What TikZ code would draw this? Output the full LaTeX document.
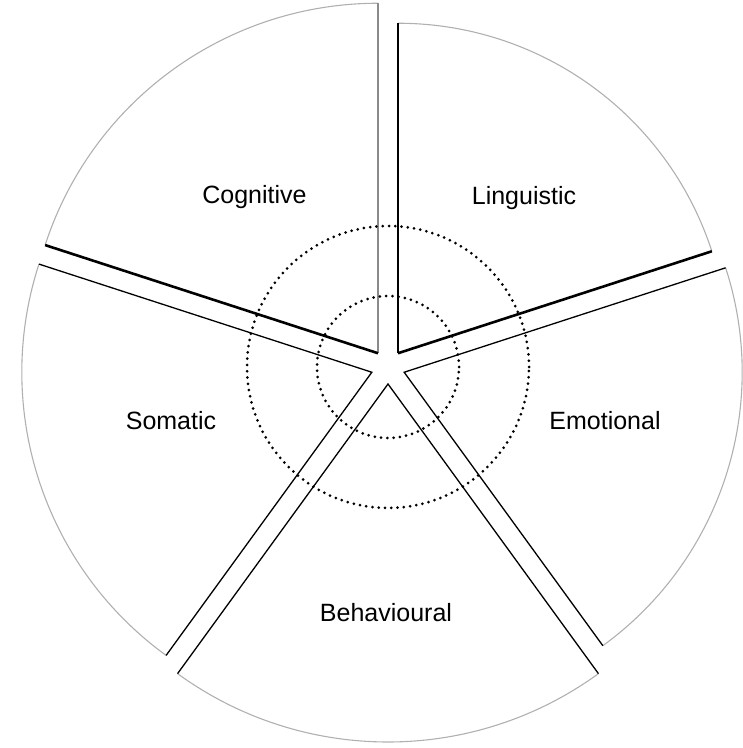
\documentclass[tikz,border=0pt]{standalone}
\usepackage{fontspec}
\setmainfont{Liberation Sans}
\usetikzlibrary{calc}
\definecolor{Rim}{HTML}{B0B0B0}
\definecolor{Pale}{HTML}{8A8A8A}

\begin{document}
\begin{tikzpicture}[x=1pt,y=1pt,
  edge/.style={line width=1.3pt,black},
  heavy/.style={line width=2.6pt,black},
  faint/.style={line width=1.2pt,Pale},
  rim/.style={line width=1.1pt,Rim},
  ring/.style={line width=3pt,dash pattern=on 0pt off 6.3pt,line cap=round},
  label/.style={font=\fontsize{25}{30}\selectfont,anchor=base}]
  \useasboundingbox (0,0) rectangle (743,748);
  \coordinate (ctr) at (388,381);
  % each sector is pushed out along its bisector
  \coordinate (ling) at ($(ctr)+(54:17pt)$);
  \coordinate (cogn) at ($(ctr)+(126:17pt)$);
  \coordinate (soma) at ($(ctr)+(198:17pt)$);
  \coordinate (beha) at ($(ctr)+(270:17pt)$);
  \coordinate (emot) at ($(ctr)+(342:17pt)$);

  % Linguistic
  \draw[rim] ($(ling)+(18:330pt)$) arc[start angle=18,end angle=90,radius=330pt];
  \draw[heavy] ($(ling)+(18:330pt)$) -- (ling);
  \draw[edge] (ling) -- ($(ling)+(90:330pt)$);
  % Cognitive
  \draw[rim] ($(cogn)+(90:350pt)$) arc[start angle=90,end angle=162,radius=350pt];
  \draw[faint] ($(cogn)+(90:350pt)$) -- (cogn);
  \draw[heavy] (cogn) -- ($(cogn)+(162:350pt)$);
  % Somatic
  \draw[rim] ($(soma)+(162:350pt)$) arc[start angle=162,end angle=234,radius=350pt];
  \draw[edge] ($(soma)+(162:350pt)$) -- (soma) -- ($(soma)+(234:350pt)$);
  % Behavioural
  \draw[rim] ($(beha)+(234:358pt)$) arc[start angle=234,end angle=306,radius=358pt];
  \draw[edge] ($(beha)+(234:358pt)$) -- (beha) -- ($(beha)+(306:358pt)$);
  % Emotional
  \draw[rim] ($(emot)+(306:338pt)$) arc[start angle=306,end angle=378,radius=338pt];
  \draw[edge] ($(emot)+(306:338pt)$) -- (emot) -- ($(emot)+(18:338pt)$);

  \draw[ring] (ctr) circle[radius=141pt];
  \draw[ring] (ctr) circle[radius=71pt];

  \node[label] (cog) at (254.5,544) {Cognitive};
  \node[label] (lin) at (524,543) {Linguistic};
  \node[label] (som) at (171,318) {Somatic};
  \node[label] (emo) at (605,318) {Emotional};
  \node[label] (beh) at (386,126) {Behavioural};
\end{tikzpicture}
\end{document}
